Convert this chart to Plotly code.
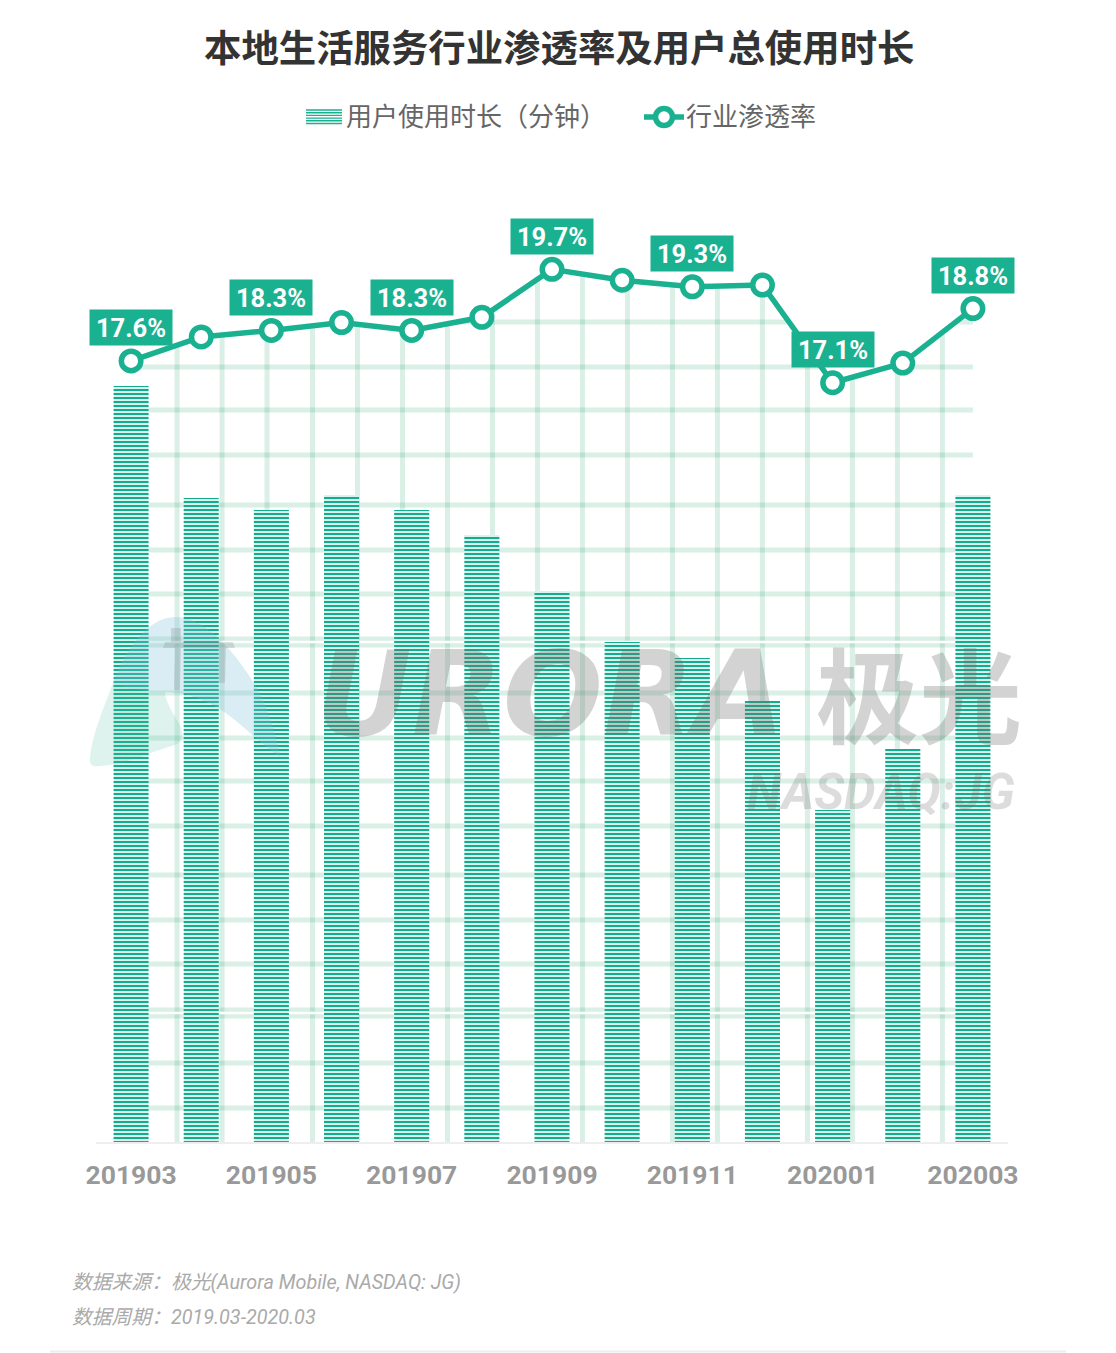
import plotly.graph_objects as go

# ---- data ----
months = ["201903", "201904", "201905", "201906", "201907", "201908", "201909",
          "201910", "201911", "201912", "202001", "202002", "202003"]
usage_minutes = [756, 644, 632, 647, 632, 607, 551, 500, 484, 441, 332, 393, 647]
penetration = [17.6, 18.15, 18.3, 18.48, 18.3, 18.6, 19.7, 19.45, 19.3, 19.34, 17.1, 17.55, 18.8]
labelled = ["201903", "201905", "201907", "201909", "201911", "202001", "202003"]

TEAL = "#1ab191"
GRID = "rgba(50,165,115,0.18)"
FONT_CJK = "Noto Sans CJK SC, Noto Sans, sans-serif"
FONT_LAT = "Roboto, Noto Sans CJK SC, sans-serif"
W, H = 1116, 1353
L, R_, T, B = 96, 108, 200, 211
PLOT_W, PLOT_H = W - L - R_, H - T - B
Y_MAX = PLOT_H
Y2_RANGE = [-0.31, 21.29]

grid_x_px = [177, 222, 267, 312.5, 357.5, 402.5, 447.5, 492.5, 537.5,
             582.5, 627.5, 672.5, 717.5, 762.5, 807.5, 852.5, 897.5, 942.5]
grid_y_px = [322, 367, 410, 455, 505, 550, 594, 639, 645, 693, 738, 781,
             826, 875, 920, 964, 1010, 1016, 1063, 1108]
seam_y_px = [642, 1013]


def px(x):
    return (x - L) / PLOT_W


def py(y):
    return (H - B - y) / PLOT_H


def path(points):
    return " ".join(f"{c} {px(x):.5f},{py(y):.5f}" if c in "ML" else c for c, x, y in points)


def curve(start, segs):
    s = f"M {px(start[0]):.5f},{py(start[1]):.5f}"
    for (a, b, c, d, e, f) in segs:
        s += f" C {px(a):.5f},{py(b):.5f} {px(c):.5f},{py(d):.5f} {px(e):.5f},{py(f):.5f}"
    return s + " Z"


fig = go.Figure()
fig.add_trace(go.Bar(
    x=months, y=usage_minutes, name="用户使用时长（分钟）", width=0.5, showlegend=False,
    marker=dict(color="#12ad8c", line_width=0,
                pattern=dict(shape="-", fgcolor="#12ad8c", bgcolor="white", size=4, solidity=0.58,
                             fgopacity=1, fillmode="replace")),
    hoverinfo="skip"))
# white area above the rate line hides the background lattice there
fig.add_trace(go.Scatter(x=months, y=[Y2_RANGE[1]] * len(months), yaxis="y2", mode="lines",
                         line=dict(width=0, color="white"), showlegend=False, hoverinfo="skip"))
fig.add_trace(go.Scatter(x=months, y=penetration, yaxis="y2", mode="none", fill="tonexty",
                         fillcolor="white", showlegend=False, hoverinfo="skip"))
fig.add_trace(go.Scatter(
    x=months, y=penetration, yaxis="y2", name="行业渗透率", mode="lines+markers", showlegend=False,
    line=dict(color=TEAL, width=5.5),
    marker=dict(size=19.5, color="white", line=dict(color=TEAL, width=5.5))))

last = len(months) - 1
shapes = []
for gx in grid_x_px:
    shapes.append(dict(type="line", layer="below", xref="x", yref="y",
                       x0=(gx - 131) / 70.17, x1=(gx - 131) / 70.17, y0=0, y1=Y_MAX,
                       line=dict(color=GRID, width=5)))
for gy in grid_y_px:
    shapes.append(dict(type="line", layer="below", xref="x", yref="y",
                       x0=0, x1=last, y0=H - B - gy, y1=H - B - gy,
                       line=dict(color=GRID, width=5)))
for gy in seam_y_px:
    shapes.append(dict(type="line", layer="below", xref="x", yref="y",
                       x0=0, x1=last, y0=H - B - gy, y1=H - B - gy,
                       line=dict(color="white", width=2.5)))

# logo watermark
blue = curve((113, 683), [(125, 650, 148, 617, 175, 617), (205, 617, 235, 650, 260, 693),
                          (270, 715, 278, 740, 280, 757), (262, 745, 240, 722, 217, 707),
                          (198, 697, 182, 692, 165, 692), (150, 692, 130, 690, 113, 683)])
green = curve((113, 683), [(103, 710, 92, 735, 90, 758), (89, 766, 93, 767, 100, 766),
                           (125, 765, 150, 752, 175, 745), (183, 742, 184, 735, 180, 725),
                           (172, 712, 165, 700, 165, 692), (150, 692, 130, 690, 113, 683)])
shapes += [
    dict(type="path", layer="above", xref="paper", yref="paper", path=blue,
         fillcolor="rgba(120,190,215,0.27)", line_width=0),
    dict(type="path", layer="above", xref="paper", yref="paper", path=green,
         fillcolor="rgba(70,190,160,0.18)", line_width=0),
    dict(type="path", layer="above", xref="paper", yref="paper",
         path=path([("M", 171, 628), ("L", 181, 628), ("L", 181, 642), ("L", 233, 642), ("L", 235, 648),
                    ("L", 226, 648), ("L", 225, 683), ("L", 219, 683), ("L", 219, 648), ("L", 181, 648),
                    ("L", 180, 690), ("L", 174, 690), ("L", 175, 648), ("L", 163, 648), ("L", 165, 642),
                    ("L", 171, 642), ("Z", 0, 0)]),
         fillcolor="rgba(110,110,110,0.2)", line_width=0),
]
# legend swatches
for sy in [110, 112.7, 115.4, 118.1, 120.8, 123.5]:
    shapes.append(dict(type="line", layer="above", xref="paper", yref="paper",
                       x0=px(306), x1=px(342), y0=py(sy), y1=py(sy), line=dict(color=TEAL, width=1.4)))
shapes.append(dict(type="line", layer="above", xref="paper", yref="paper",
                   x0=px(644), x1=px(684), y0=py(117), y1=py(117), line=dict(color=TEAL, width=5.5)))
shapes.append(dict(type="circle", layer="above", xref="paper", yref="paper",
                   x0=px(655.5), x1=px(672.5), y0=py(125.5), y1=py(108.5),
                   fillcolor="white", line=dict(color=TEAL, width=5.5)))
# bottom rule
shapes.append(dict(type="line", layer="above", xref="paper", yref="paper",
                   x0=px(50), x1=px(1066), y0=py(1351.5), y1=py(1351.5), line=dict(color="#eeeeee", width=2)))

ann = []
for i, (m, v) in enumerate(zip(months, penetration)):
    if m in labelled:
        ann.append(dict(x=i, y=v, xref="x", yref="y2", yshift=33, text=f"{v:.1f}%", showarrow=False,
                        width=80, height=33, bgcolor=TEAL, align="center", valign="middle",
                        font=dict(family=FONT_LAT, size=25.5, color="white", weight=700)))


def text(x, y, s, size, color, family=FONT_CJK, anchor="left", weight=400, style="normal"):
    ann.append(dict(x=px(x), y=py(y), xref="paper", yref="paper", text=s, showarrow=False, xanchor=anchor,
                    yanchor="middle", font=dict(family=family, size=size, color=color, weight=weight, style=style)))


text(558.5, 45.5, "本地生活服务行业渗透率及用户总使用时长", 37.4, "#333333", anchor="center", weight=700)
text(344, 114.5, "用户使用时长（分钟）", 26, "#666666")
text(684, 114.5, "行业渗透率", 26, "#666666")
WM = "rgba(110,110,110,0.30)"
text(314, 694, "URORA", 118, WM, family="DejaVu Sans", weight=700, style="italic")
text(814, 691, "极光", 103, WM, weight=700)
text(745, 792, "NASDAQ:JG", 50, "rgba(110,110,110,0.24)", family=FONT_LAT, weight=700, style="italic")
text(70, 1282, "数据来源：极光(Aurora Mobile, NASDAQ: JG)", 19.8, "#aaaaaa", family=FONT_LAT, style="italic")
text(70, 1317, "数据周期：2019.03-2020.03", 19.8, "#aaaaaa", family=FONT_LAT, style="italic")

fig.update_layout(
    width=W, height=H, margin=dict(l=L, r=R_, t=T, b=B, pad=0, autoexpand=False),
    paper_bgcolor="white", plot_bgcolor="white", showlegend=False, bargap=0.5,
    shapes=shapes, annotations=ann,
    xaxis=dict(type="category", categoryorder="array", categoryarray=months, tickmode="array",
               tickvals=labelled, ticktext=labelled, range=[-0.5, 12.5], showgrid=False, zeroline=False,
               showline=True, linecolor="#eeeeee", linewidth=2, ticks="", ticklabelstandoff=8,
               tickfont=dict(family=FONT_LAT, size=26.5, color="#999999", weight=700)),
    yaxis=dict(range=[0, Y_MAX], visible=False, showgrid=False, zeroline=False),
    yaxis2=dict(range=Y2_RANGE, overlaying="y", visible=False, showgrid=False, zeroline=False),
)
fig.write_html("out.html", config=dict(displayModeBar=False),
               post_script="document.body.style.margin='0';window.dispatchEvent(new Event('resize'));")
